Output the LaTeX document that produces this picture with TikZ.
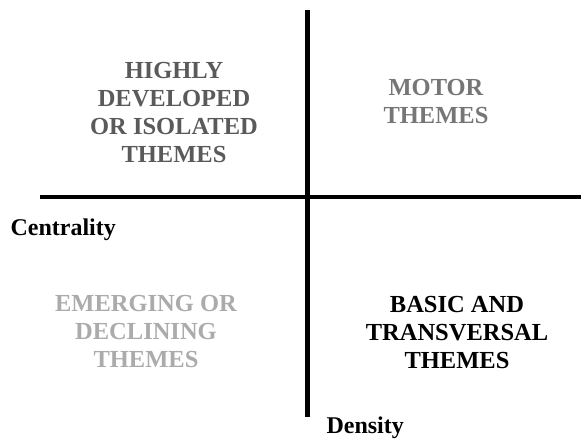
\documentclass[tikz,border=0pt]{standalone}
\usepackage{fontspec}
\setmainfont{Liberation Serif}
\definecolor{darkgrey}{HTML}{5A5A5A}
\definecolor{midgrey}{HTML}{767676}
\definecolor{lightgrey}{HTML}{ABABAB}
\tikzset{
  quad/.style={align=center, font=\fontsize{24.5}{28}\selectfont\bfseries},
  axislabel/.style={font=\fontsize{24}{28}\selectfont\bfseries},
  axis/.style={line width=4.5pt}
}
\begin{document}
\begin{tikzpicture}[x=1pt, y=1pt]
      \useasboundingbox (0, 0) rectangle (581, 441);

      % Draw the two axes
      \coordinate (top) at (307.5, 431);
      \coordinate (bottom) at (307.5, 24);
      \coordinate (left) at (40, 244);
      \coordinate (right) at (581, 244);
      \draw[axis] (top) -- (bottom);
      \draw[axis] (left) -- (right);

      % Axis names
      \node[axislabel, anchor=west] (centrality) at (7, 211) {Centrality};
      \node[axislabel, anchor=west] (density) at (323, 13) {Density};

      % Label the four quadrants
      \node[quad, text=darkgrey] (isolated) at (174, 328)
        {HIGHLY\\DEVELOPED\\OR ISOLATED\\THEMES};
      \node[quad, text=midgrey] (motor) at (436, 339) {MOTOR\\THEMES};
      \node[quad, text=lightgrey] (emerging) at (146, 109)
        {EMERGING OR\\DECLINING\\THEMES};
      \node[quad] (basic) at (457, 108) {BASIC AND\\TRANSVERSAL\\THEMES};
\end{tikzpicture}
\end{document}
